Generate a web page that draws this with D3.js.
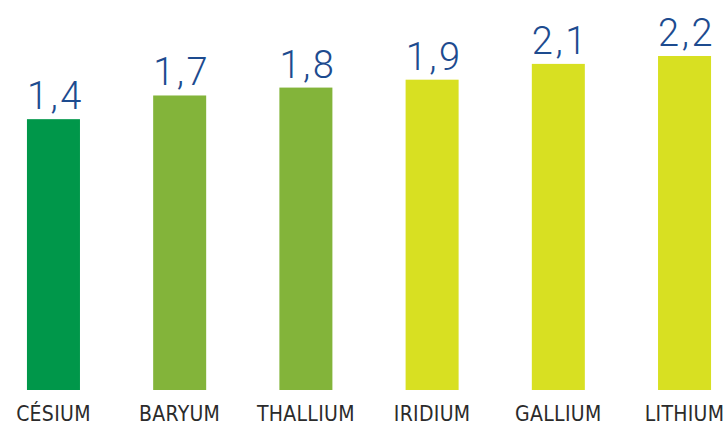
<!DOCTYPE html>
<html>
<head>
<meta charset="utf-8">
<script src="https://cdn.jsdelivr.net/npm/d3@7"></script>
<style>
  body { margin: 0; background: #fff; }
</style>
</head>
<body>
<div id="chart-container"></div>
<script>
// chart data
const elements = ["CÉSIUM", "BARYUM", "THALLIUM", "IRIDIUM", "GALLIUM", "LITHIUM"];
const values = [1.4, 1.7, 1.8, 1.9, 2.1, 2.2];
const valueLabels = ["1,4", "1,7", "1,8", "1,9", "2,1", "2,2"];
const barColors = ["#00974a", "#83b43a", "#83b43a", "#d8e022", "#d8e022", "#d8e022"];

const width = 726;
const height = 425;
const baseline = 390;

const svg = d3.select("#chart-container")
    .append("svg")
    .attr("width", width)
    .attr("height", height);

// band scale for the bars
const xScale = d3.scaleBand()
    .domain(elements)
    .range([6, 732])
    .paddingInner(0.58)
    .paddingOuter(0.166);

// axis does not start at zero in the original
const yScale = d3.scaleLinear()
    .domain([-2.03, 2.2])
    .range([baseline, 56]);

const rows = elements.map((e, i) => ({ name: e, value: values[i], label: valueLabels[i], color: barColors[i] }));

// bars
svg.selectAll("rect.bar")
    .data(rows)
    .enter()
    .append("rect")
    .attr("class", "bar")
    .attr("x", d => xScale(d.name))
    .attr("y", d => yScale(d.value))
    .attr("width", xScale.bandwidth())
    .attr("height", d => baseline - yScale(d.value))
    .attr("fill", d => d.color);

// value labels above bars
svg.selectAll("text.value")
    .data(rows)
    .enter()
    .append("text")
    .attr("class", "value")
    .attr("x", d => xScale(d.name) + xScale.bandwidth() / 2 + 2)
    .attr("y", d => yScale(d.value) - 10)
    .attr("text-anchor", "middle")
    .attr("font-family", "Roboto, 'Open Sans', sans-serif")
    .attr("font-weight", 300)
    .attr("font-size", 38)
    .attr("letter-spacing", 2.5)
    .attr("fill", "#1d4b8f")
    .text(d => d.label);

// category labels
svg.selectAll("text.cat")
    .data(rows)
    .enter()
    .append("text")
    .attr("class", "cat")
    .attr("x", d => xScale(d.name) + xScale.bandwidth() / 2)
    .attr("y", 421)
    .attr("text-anchor", "middle")
    .attr("font-family", "'Liberation Sans Narrow', 'DejaVu Sans Condensed', sans-serif")
    .attr("font-size", 21)
    .attr("letter-spacing", 0.3)
    .attr("fill", "#2b2b2b")
    .text(d => d.name);
</script>
</body>
</html>
